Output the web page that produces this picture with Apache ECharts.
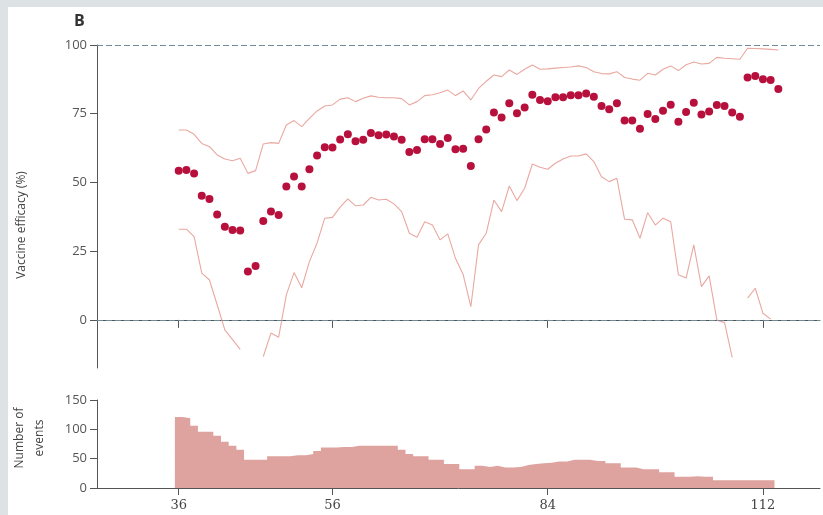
<!DOCTYPE html>
<html>
<head>
<meta charset="utf-8">
<script src="https://cdn.jsdelivr.net/npm/echarts@6/dist/echarts.min.js"></script>
<style>
  html, body { margin: 0; padding: 0; background: #dde2e4; }
  #chart { width: 823px; height: 515px; }
</style>
</head>
<body>
<div id="chart"></div>
<script>
// Days since vaccination for the efficacy estimates
const days = [36, 37, 38, 39, 40, 41, 42, 43, 44, 45,
  46, 47, 48, 49, 50, 51, 52, 53, 54, 55,
  56, 57, 58, 59, 60, 61, 62, 63, 64, 65,
  66, 67, 68, 69, 70, 71, 72, 73, 74, 75,
  76, 77, 78, 79, 80, 81, 82, 83, 84, 85,
  86, 87, 88, 89, 90, 91, 92, 93, 94, 95,
  96, 97, 98, 99, 100, 101, 102, 103, 104, 105,
  106, 107, 108, 109, 110, 111, 112, 113, 114];

// Point estimate of vaccine efficacy (%)
const efficacy = [54.3, 54.5, 53.3, 45.2, 44.0, 38.3, 33.9, 32.7, 32.5, 17.6,
  19.6, 36.0, 39.4, 38.2, 48.5, 52.2, 48.5, 54.8, 59.8, 62.8,
  62.7, 65.6, 67.5, 65.0, 65.5, 68.0, 67.2, 67.4, 66.7, 65.5,
  61.1, 61.8, 65.7, 65.7, 64.0, 66.2, 62.1, 62.3, 56.0, 65.7,
  69.3, 75.4, 73.6, 78.8, 75.2, 77.3, 81.9, 80.0, 79.5, 81.0,
  81.0, 81.7, 81.7, 82.4, 81.2, 77.8, 76.6, 78.8, 72.5, 72.5,
  69.5, 74.9, 73.1, 76.1, 78.3, 72.1, 75.6, 79.0, 74.7, 75.8,
  78.2, 77.8, 75.4, 73.9, 88.2, 88.7, 87.5, 87.3, 84.0];

// Upper confidence limit (%)
const upperCI = [69.1, 69.1, 67.5, 64.2, 63.0, 60.0, 58.5, 57.9, 58.8, 53.3,
  54.3, 64.0, 64.5, 64.2, 70.9, 72.5, 70.3, 73.3, 76.0, 77.8,
  78.2, 80.3, 80.8, 79.4, 80.6, 81.5, 81.0, 80.8, 80.8, 80.5,
  78.2, 79.4, 81.6, 81.9, 82.6, 83.6, 81.6, 83.3, 80.0, 84.2,
  86.8, 89.1, 88.5, 90.9, 89.3, 91.2, 92.7, 91.2, 91.3, 91.6,
  91.8, 92.0, 92.4, 91.8, 90.3, 89.6, 89.5, 90.3, 88.2, 87.6,
  87.2, 89.7, 89.1, 91.2, 92.4, 90.7, 92.8, 93.8, 93.1, 93.3,
  95.5, 95.2, 95.0, 94.8, 98.8, 98.7, 98.6, 98.4, 98.2];

// Lower confidence limit (%); null where the bound falls off the scale
const lowerCI = [33.0, 33.0, 30.3, 17.0, 14.5, 5.5, -3.6, -7.2, -10.7, null,
  null, -13.3, -4.8, -6.3, 9.1, 17.2, 11.7, 21.2, 28.0, 37.0,
  37.3, 41.0, 44.0, 41.5, 41.8, 44.6, 43.6, 43.9, 42.2, 39.4,
  31.5, 30.1, 35.7, 34.5, 29.1, 31.3, 22.4, 16.5, 4.8, 27.3,
  31.5, 43.6, 39.4, 48.7, 43.4, 47.9, 56.7, 55.5, 54.8, 57.0,
  58.5, 59.6, 59.6, 60.4, 57.6, 52.1, 50.3, 51.5, 36.6, 36.4,
  29.7, 39.0, 34.5, 37.0, 35.7, 16.4, 15.2, 27.3, 12.1, 16.0,
  0.0, -1.0, -13.6, null, 7.9, 11.5, 2.4, 0.3, null];

// Number of events per day
const eventDays = [36, 37, 38, 39, 40, 41, 42, 43, 44, 45,
  46, 47, 48, 49, 50, 51, 52, 53, 54, 55,
  56, 57, 58, 59, 60, 61, 62, 63, 64, 65,
  66, 67, 68, 69, 70, 71, 72, 73, 74, 75,
  76, 77, 78, 79, 80, 81, 82, 83, 84, 85,
  86, 87, 88, 89, 90, 91, 92, 93, 94, 95,
  96, 97, 98, 99, 100, 101, 102, 103, 104, 105,
  106, 107, 108, 109, 110, 111, 112, 113];
const events = [121, 119, 106, 96, 96, 89, 79, 72, 65, 48,
  48, 48, 54, 54, 54, 56, 56, 58, 63, 69,
  69, 70, 70, 72, 72, 72, 72, 72, 72, 65,
  58, 54, 54, 48, 48, 41, 41, 32, 32, 38,
  36, 38, 35, 35, 36, 39, 41, 42, 43, 45,
  45, 48, 48, 48, 46, 46, 42, 42, 35, 35,
  32, 32, 32, 27, 27, 19, 19, 20, 19, 19,
  13, 13, 13, 13, 13, 13, 13, 13];

const xTicks = [36, 56, 84, 112];
const efficacyTicks = [0, 25, 50, 75, 100];
const referenceLines = [100, 0];

const pair = (xs, ys) => xs.map((x, i) => [x, ys[i]]);

// Each day's count spans [day - 0.5, day + 0.5]; drawn as one stepped area
function histogramSteps(xs, ys) {
  const pts = xs.map((x, i) => [x - 0.5, ys[i]]);
  pts.push([xs[xs.length - 1] + 0.5, ys[ys.length - 1]]);
  return pts;
}

const axisColor = '#555';
const dotColor = '#b8103d';
const ciColor = '#e9a8a0';
const barColor = '#dfa39f';
const dashColor = '#6f8c98';
const sansFont = '"Open Sans", "Noto Sans", sans-serif';
const serifFont = '"DejaVu Serif", serif';

const xRange = { min: 25.37, max: 119.42 };

const chart = echarts.init(document.getElementById('chart'), null, { renderer: 'canvas' });

chart.setOption({
  animation: false,
  backgroundColor: '#dde2e4',
  graphic: [
    { type: 'rect', z: -10, shape: { x: 8, y: 7, width: 815, height: 508 }, style: { fill: '#ffffff' } },
    { type: 'text', left: 74, top: 13, style: { text: 'B', font: 'bold 16px ' + sansFont, fill: '#333' } },
    { type: 'text', x: 22, y: 225, rotation: Math.PI / 2,
      style: { text: 'Vaccine efficacy (%)', font: '12px ' + sansFont, fill: '#444', align: 'center', verticalAlign: 'middle' } },
    { type: 'text', x: 30, y: 438, rotation: Math.PI / 2,
      style: { text: 'Number of\nevents', font: '12px ' + sansFont, lineHeight: 20, fill: '#444', align: 'center', verticalAlign: 'middle' } }
  ],
  grid: [
    { left: 97, top: 45, width: 723, height: 323 },
    { left: 97, top: 400, width: 723, height: 88 }
  ],
  xAxis: [
    {
      type: 'value', gridIndex: 0, min: xRange.min, max: xRange.max,
      axisLine: { lineStyle: { color: axisColor, width: 1 } },
      axisTick: { length: 8, customValues: xTicks, lineStyle: { color: axisColor } },
      axisLabel: { show: false },
      splitLine: { show: false }
    },
    {
      type: 'value', gridIndex: 1, min: xRange.min, max: xRange.max,
      axisLine: { lineStyle: { color: axisColor, width: 1 } },
      axisTick: { length: 7, customValues: xTicks, lineStyle: { color: axisColor } },
      axisLabel: { customValues: xTicks, margin: 11, color: '#444', fontSize: 13, fontFamily: serifFont },
      splitLine: { show: false }
    }
  ],
  yAxis: [
    {
      type: 'value', gridIndex: 0, min: -17.5, max: 100,
      axisLine: { show: true, lineStyle: { color: axisColor, width: 1 } },
      axisTick: { show: true, length: 7, customValues: efficacyTicks, lineStyle: { color: axisColor } },
      axisLabel: { customValues: efficacyTicks, margin: 10, color: '#555', fontSize: 13, fontFamily: sansFont },
      splitLine: { show: false }
    },
    {
      type: 'value', gridIndex: 1, min: 0, max: 150, interval: 50,
      axisLine: { show: true, lineStyle: { color: axisColor, width: 1 } },
      axisTick: { show: true, length: 7, lineStyle: { color: axisColor } },
      axisLabel: { margin: 10, color: '#555', fontSize: 13, fontFamily: sansFont },
      splitLine: { show: false }
    }
  ],
  series: [
    {
      name: 'upper', type: 'line', xAxisIndex: 0, yAxisIndex: 0,
      data: pair(days, upperCI), showSymbol: false, symbol: 'none',
      lineStyle: { color: ciColor, width: 1.1 }, z: 2
    },
    {
      name: 'lower', type: 'line', xAxisIndex: 0, yAxisIndex: 0,
      data: pair(days, lowerCI), showSymbol: false, symbol: 'none', connectNulls: false,
      lineStyle: { color: ciColor, width: 1.1 }, z: 2
    },
    {
      name: 'efficacy', type: 'scatter', xAxisIndex: 0, yAxisIndex: 0,
      data: pair(days, efficacy), symbolSize: 8,
      itemStyle: { color: dotColor, opacity: 1 }, z: 4,
      markLine: {
        silent: true, symbol: 'none', label: { show: false },
        lineStyle: { color: dashColor, type: [6, 3], width: 1.2, opacity: 1 },
        data: referenceLines.map(v => ({ yAxis: v }))
      }
    },
    {
      name: 'events', type: 'line', xAxisIndex: 1, yAxisIndex: 1,
      data: histogramSteps(eventDays, events),
      step: 'end', symbol: 'none', showSymbol: false,
      lineStyle: { width: 0, color: barColor },
      areaStyle: { color: barColor, opacity: 1 },
      z: 1
    }
  ]
});
</script>
</body>
</html>
